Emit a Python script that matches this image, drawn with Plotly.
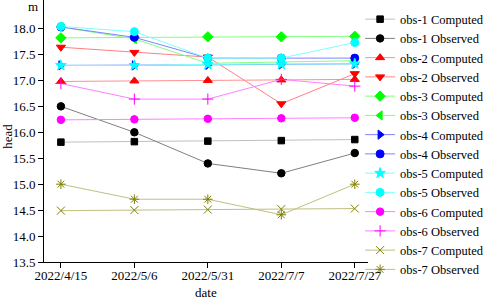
import plotly.graph_objects as go

dates = ["2022/4/15", "2022/5/6", "2022/5/31", "2022/7/7", "2022/7/27"]

obs1_computed = [15.81, 15.82, 15.83, 15.84, 15.86]
obs1_observed = [16.50, 16.00, 15.40, 15.21, 15.60]
obs2_computed = [16.98, 16.99, 17.00, 17.01, 17.02]
obs2_observed = [17.64, 17.54, 17.45, 16.55, 17.13]
obs3_computed = [17.82, 17.83, 17.84, 17.84, 17.85]
obs3_observed = [18.03, 17.80, 17.33, 17.35, 17.38]
obs4_computed = [17.29, 17.29, 17.30, 17.31, 17.32]
obs4_observed = [18.03, 17.83, 17.43, 17.43, 17.43]
obs5_computed = [17.29, 17.29, 17.31, 17.31, 17.32]
obs5_observed = [18.04, 17.94, 17.43, 17.43, 17.73]
obs6_computed = [16.24, 16.25, 16.26, 16.27, 16.28]
obs6_observed = [16.94, 16.64, 16.64, 17.02, 16.89]
obs7_computed = [14.49, 14.50, 14.51, 14.52, 14.53]
obs7_observed = [15.00, 14.71, 14.71, 14.41, 15.00]

y_ticks = [13.5, 14.0, 14.5, 15.0, 15.5, 16.0, 16.5, 17.0, 17.5, 18.0]

series = [
    ("obs-1 Computed", obs1_computed, "#c0c0c0", "#000000", "square", 6.5),
    ("obs-1 Observed", obs1_observed, "#808080", "#000000", "circle", 7.5),
    ("obs-2 Computed", obs2_computed, "#ff9090", "#ff0000", "triangle-up", 8),
    ("obs-2 Observed", obs2_observed, "#ff8080", "#ff0000", "triangle-down", 8),
    ("obs-3 Computed", obs3_computed, "#80ff80", "#00ff00", "diamond", 8),
    ("obs-3 Observed", obs3_observed, "#80ff80", "#00ff00", "triangle-left", 8),
    ("obs-4 Computed", obs4_computed, "#8080ff", "#0000ff", "triangle-right", 8),
    ("obs-4 Observed", obs4_observed, "#8080ff", "#0000ff", "circle", 8),
    ("obs-5 Computed", obs5_computed, "#80ffff", "#00ffff", "star", 8),
    ("obs-5 Observed", obs5_observed, "#80ffff", "#00ffff", "circle", 8),
    ("obs-6 Computed", obs6_computed, "#ff80ff", "#ff00ff", "circle", 7.5),
    ("obs-6 Observed", obs6_observed, "#ff80ff", "#ff00ff", "cross-thin-open", 8),
    ("obs-7 Computed", obs7_computed, "#c0c080", "#808000", "x-thin-open", 8),
    ("obs-7 Observed", obs7_observed, "#c0c080", "#808000", "asterisk-open", 8),
]

fig = go.Figure()
for name, vals, lc, mc, sym, sz in series:
    fig.add_trace(go.Scatter(
        x=dates, y=vals, name=name, mode="lines+markers",
        line=dict(color=lc, width=1),
        marker=dict(symbol=sym, size=sz, color=mc, line=dict(color=mc, width=1)),
    ))

font_family = "Liberation Serif"
fig.update_layout(
    width=484, height=301,
    margin=dict(l=44, r=116, t=0, b=39, autoexpand=False),
    paper_bgcolor="white", plot_bgcolor="white",
    font=dict(family=font_family, size=13, color="black"),
    showlegend=True,
    legend=dict(x=0.744, y=0.985, xref="container", yref="container",
                xanchor="left", yanchor="top", maxheight=300,
                font=dict(family=font_family, size=12.5, color="black"),
                bgcolor="rgba(0,0,0,0)", borderwidth=0, tracegroupgap=0),
    xaxis=dict(type="category", range=[-0.23, 4.18], showline=True, linecolor="black",
               linewidth=1, ticks="outside", ticklen=5, tickcolor="black",
               ticklabelstandoff=-4,
               showgrid=False, zeroline=False, tickfont=dict(family=font_family, size=13)),
    yaxis=dict(range=[13.5, 18.55], showline=True, linecolor="black", linewidth=1,
               ticks="outside", ticklen=5, tickcolor="black", tickvals=y_ticks,
               tickformat=".1f", showgrid=False, zeroline=False,
               tickfont=dict(family=font_family, size=13)),
    annotations=[
        dict(text="m", x=-0.034, y=0.975, xref="paper", yref="paper", showarrow=False,
             xanchor="center", yanchor="middle", font=dict(family=font_family, size=13)),
        dict(text="head", x=-0.112, y=0.481, xref="paper", yref="paper", showarrow=False,
             xanchor="center", yanchor="middle",
             textangle=-90, font=dict(family=font_family, size=13)),
        dict(text="date", x=0.5, y=-0.118, xref="paper", yref="paper", showarrow=False,
             xanchor="center", yanchor="middle", font=dict(family=font_family, size=13)),
    ],
)

fig.write_html("out.html", config={"displayModeBar": False},
               post_script="document.body.style.margin='0';document.body.style.padding='0';")
